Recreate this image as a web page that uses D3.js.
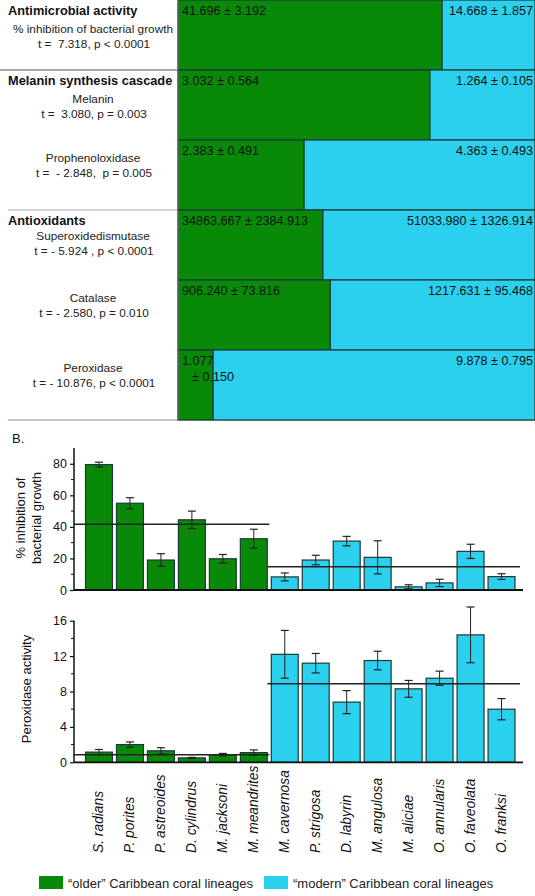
<!DOCTYPE html>
<html><head><meta charset="utf-8">
<script src="https://cdn.jsdelivr.net/npm/d3@7"></script>
<style>
body{margin:0;background:#fff;}
svg{display:block;font-family:"Liberation Sans",Arial,sans-serif;}
</style></head>
<body>
<svg id="c" width="535" height="896"></svg>
<script>
// ---------- DATA ----------
// Panel A (table)
const tableGroups = ["Antimicrobial activity", "Melanin synthesis cascade", null, "Antioxidants", null, null];
const tableRows = ["% inhibition of bacterial growth", "Melanin", "Prophenoloxidase", "Superoxidedismutase", "Catalase", "Peroxidase"];
const tableStats = ["t =  7.318, p < 0.0001", "t =  3.080, p = 0.003", "t =  - 2.848,  p = 0.005", "t = - 5.924 , p < 0.0001", "t = - 2.580, p = 0.010", "t = - 10.876, p < 0.0001"];
const olderMean = [41.696, 3.032, 2.383, 34863.667, 906.240, 1.077];
const olderSE = [3.192, 0.564, 0.491, 2384.913, 73.816, 0.150];
const modernMean = [14.668, 1.264, 4.363, 51033.980, 1217.631, 9.878];
const modernSE = [1.857, 0.105, 0.493, 1326.914, 95.468, 0.795];

// Panel B
const species = ["S. radians", "P. porites", "P. astreoides", "D. cylindrus", "M. jacksoni", "M. meandrites",
  "M. cavernosa", "P. strigosa", "D. labyrin", "M. angulosa", "M. aliciae", "O. annularis", "O. faveolata", "O. franksi"];
const lineage = ["older","older","older","older","older","older","modern","modern","modern","modern","modern","modern","modern","modern"];
const inhibition = [79.5, 55, 19, 44.5, 19.8, 32.5, 8.3, 19, 31, 20.7, 2, 4.5, 24.5, 8.5];
const inhibitionErr = [1.5, 3.5, 4, 5.5, 2.7, 6, 2.5, 3, 3, 10.5, 1.3, 2.3, 4.5, 1.8];
const inhibitionLineMeans = [41.7, 14.8];
const peroxidase = [1.15, 2.0, 1.3, 0.5, 0.87, 1.1, 12.2, 11.2, 6.8, 11.5, 8.3, 9.5, 14.4, 6.0];
const peroxidaseErr = [0.3, 0.3, 0.35, 0.06, 0.13, 0.3, 2.7, 1.1, 1.3, 1.05, 0.95, 0.8, 3.15, 1.2];
const peroxidaseLineMeans = [0.85, 8.88];
const inhibitionTicks = [0, 20, 40, 60, 80];
const peroxidaseTicks = [0, 4, 8, 12, 16];
const legendLabels = ["\u201colder\u201d Caribbean coral lineages", "\u201cmodern\u201d Caribbean coral lineages"];

// ---------- STYLE ----------
const GREEN = "#088a08", CYAN = "#2bd0ee", EDGE = "#1b3a38";
const colorOf = l => l === "older" ? GREEN : CYAN;

const svg = d3.select("#c");

// ---------- PANEL A ----------
const rowH = 70;
const yRow = d3.scaleBand().domain(d3.range(tableRows.length)).range([0, rowH * tableRows.length]).padding(0);
const xFrac = d3.scaleLinear().domain([0, 1]).range([178, 535]);
const A = svg.append("g");

A.append("line").attr("x1", 0).attr("x2", 178).attr("y1", yRow(1)).attr("y2", yRow(1)).attr("stroke", "#555").attr("stroke-width", 1.2);
A.append("line").attr("x1", 8).attr("x2", 178).attr("y1", yRow(3)).attr("y2", yRow(3)).attr("stroke", "#aaa").attr("stroke-width", 1.2);
A.append("line").attr("x1", 8).attr("x2", 535).attr("y1", yRow(5) + rowH).attr("y2", yRow(5) + rowH).attr("stroke", "#a8b4b4").attr("stroke-width", 1.5);

const rows = A.selectAll("g.row").data(tableRows).join("g").attr("class", "row")
  .attr("transform", (d, i) => `translate(0,${yRow(i)})`);

rows.each(function(d, i) {
  const g = d3.select(this);
  const frac = olderMean[i] / (olderMean[i] + modernMean[i]);
  const xm = xFrac(frac);
  g.append("rect").attr("x", xFrac(0)).attr("y", 0).attr("width", xm - xFrac(0)).attr("height", rowH)
    .attr("fill", GREEN).attr("stroke", EDGE).attr("stroke-width", 1.2);
  g.append("rect").attr("x", xm).attr("y", 0).attr("width", xFrac(1) - xm).attr("height", rowH)
    .attr("fill", CYAN).attr("stroke", EDGE).attr("stroke-width", 1.2);
  const lblO = olderMean[i].toFixed(3), lblOse = "\u00b1 " + olderSE[i].toFixed(3);
  const vfs = 12.6;
  if (xm - xFrac(0) < 60) {
    g.append("text").attr("x", 182).attr("y", 14.5).attr("font-size", vfs).attr("fill", "#111").text(lblO);
    g.append("text").attr("x", 192).attr("y", 30.5).attr("font-size", vfs).attr("fill", "#111").text(lblOse);
  } else {
    g.append("text").attr("x", 182).attr("y", 14.5).attr("font-size", vfs).attr("fill", "#111").text(lblO + " " + lblOse);
  }
  g.append("text").attr("x", 533).attr("y", 14.5).attr("text-anchor", "end").attr("font-size", vfs).attr("fill", "#111")
    .text(modernMean[i].toFixed(3) + " \u00b1 " + modernSE[i].toFixed(3));

  const hasGroup = tableGroups[i] !== null;
  if (hasGroup) {
    g.append("text").attr("x", 8).attr("y", 14.5).attr("font-size", 12.8).attr("font-weight", "bold").attr("fill", "#111").text(tableGroups[i]);
  }
  const y1 = hasGroup ? (i === 3 ? 30 : 32.5) : 31.5;
  const yy = hasGroup ? [y1, y1 + 15] : [21.5, 36.5];
  g.append("text").attr("x", 93).attr("y", yy[0]).attr("text-anchor", "middle").attr("font-size", 11.8).attr("fill", "#222").text(d);
  g.append("text").attr("x", 94).attr("y", yy[1]).attr("text-anchor", "middle").attr("font-size", 11.8).attr("fill", "#222")
    .style("white-space", "pre").attr("xml:space", "preserve").text(tableStats[i]);
});
A.append("line").attr("x1", 178).attr("x2", 178).attr("y1", 0).attr("y2", rowH * tableRows.length).attr("stroke", "#777").attr("stroke-width", 1);

// ---------- PANEL B ----------
svg.append("text").attr("x", 12).attr("y", 443).attr("font-size", 13).attr("fill", "#111").text("B.");

const x = d3.scaleBand().domain(species).range([83.5, 517]).paddingInner(0.13).paddingOuter(0.065);
const axisX0 = 74, axisX1 = 523;
const splitX = (x(species[5]) + x.bandwidth() + x(species[6])) / 2;

function panel(vals, errs, lineMeans, yScale, ticks, minorStep) {
  const g = svg.append("g");
  const base = yScale(0);
  g.selectAll("rect.bar").data(vals).join("rect").attr("class", "bar")
    .attr("x", (d, i) => x(species[i])).attr("width", x.bandwidth())
    .attr("y", d => yScale(d)).attr("height", d => base - yScale(d))
    .attr("fill", (d, i) => colorOf(lineage[i])).attr("stroke", EDGE).attr("stroke-width", 1.2);
  const eb = g.selectAll("g.eb").data(vals).join("g").attr("class", "eb");
  eb.append("line").attr("x1", (d, i) => x(species[i]) + x.bandwidth() / 2).attr("x2", (d, i) => x(species[i]) + x.bandwidth() / 2)
    .attr("y1", (d, i) => yScale(d + errs[i])).attr("y2", (d, i) => yScale(Math.max(0, d - errs[i])))
    .attr("stroke", "#222").attr("stroke-width", 1);
  [1, -1].forEach(s => {
    eb.append("line").attr("x1", (d, i) => x(species[i]) + x.bandwidth() / 2 - 4).attr("x2", (d, i) => x(species[i]) + x.bandwidth() / 2 + 4)
      .attr("y1", (d, i) => yScale(Math.max(0, d + s * errs[i]))).attr("y2", (d, i) => yScale(Math.max(0, d + s * errs[i])))
      .attr("stroke", "#222").attr("stroke-width", 1.2);
  });
  g.append("line").attr("x1", axisX0).attr("x2", splitX).attr("y1", yScale(lineMeans[0])).attr("y2", yScale(lineMeans[0]))
    .attr("stroke", "#222").attr("stroke-width", 1.5);
  g.append("line").attr("x1", splitX - 2).attr("x2", 520).attr("y1", yScale(lineMeans[1])).attr("y2", yScale(lineMeans[1]))
    .attr("stroke", "#222").attr("stroke-width", 1.5);
  const yAxis = d3.axisLeft(yScale).tickValues(ticks).tickSize(4).tickPadding(3);
  const ya = g.append("g").attr("transform", `translate(${axisX0},0)`).call(yAxis);
  ya.select(".domain").remove();
  ya.selectAll("text").attr("font-size", 12.5).attr("fill", "#111").attr("font-family", "Liberation Sans, Arial, sans-serif");
  ya.selectAll("line").attr("stroke", "#111").attr("stroke-width", 1.2);
  const minor = d3.range(minorStep, yScale.domain()[1], minorStep * 2);
  g.selectAll("line.minor").data(minor).join("line").attr("class", "minor")
    .attr("x1", axisX0 - 3).attr("x2", axisX0).attr("y1", d => yScale(d)).attr("y2", d => yScale(d))
    .attr("stroke", "#111").attr("stroke-width", 1);
  g.append("line").attr("x1", axisX0).attr("x2", axisX0).attr("y1", base).attr("y2", yScale(yScale.domain()[1]))
    .attr("stroke", "#111").attr("stroke-width", 1.5);
  g.append("line").attr("x1", axisX0).attr("x2", axisX1).attr("y1", base).attr("y2", base)
    .attr("stroke", "#111").attr("stroke-width", 1.8);
  return g;
}

const y1 = d3.scaleLinear().domain([0, 90]).range([590, 448]);
panel(inhibition, inhibitionErr, inhibitionLineMeans, y1, inhibitionTicks, 10);
const y2 = d3.scaleLinear().domain([0, 16]).range([762.3, 620.7]);
panel(peroxidase, peroxidaseErr, peroxidaseLineMeans, y2, peroxidaseTicks, 2);

const yl1 = svg.append("text").attr("transform", "translate(25,518) rotate(-90)").attr("text-anchor", "middle").attr("font-size", 13).attr("fill", "#111");
yl1.append("tspan").attr("x", 0).attr("dy", 0).text("% inhibition of");
yl1.append("tspan").attr("x", 0).attr("dy", 16).text("bacterial growth");
svg.append("text").attr("transform", "translate(31,689) rotate(-90)").attr("text-anchor", "middle").attr("font-size", 13).attr("fill", "#111").text("Peroxidase activity");

svg.selectAll("text.sp").data(species).join("text").attr("class", "sp")
  .attr("transform", d => `translate(${x(d) + x.bandwidth() / 2 + 4.5},853) rotate(-90)`)
  .attr("font-size", 13.8).attr("font-style", "italic").attr("fill", "#111").text(d => d);

const lg = svg.append("g");
const lgX = [39, 264];
legendLabels.forEach((t, i) => {
  lg.append("rect").attr("x", lgX[i]).attr("y", 876).attr("width", 24).attr("height", 13).attr("fill", i === 0 ? GREEN : CYAN);
  lg.append("text").attr("x", lgX[i] + 29).attr("y", 887.5).attr("font-size", 13).attr("fill", "#222").text(t);
});
</script>
</body></html>
